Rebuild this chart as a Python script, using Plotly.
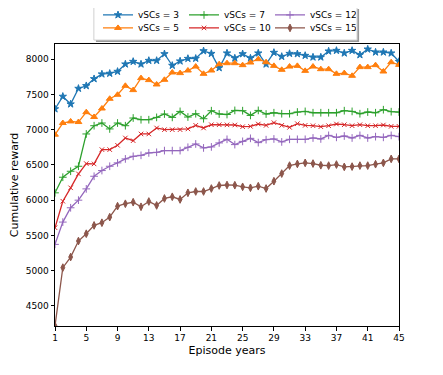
import plotly.graph_objects as go

# episode years on the x axis
years = list(range(1, 46))

# cumulative reward for each vSCs setting
vscs_3 = [7293, 7471, 7363, 7584, 7622, 7721, 7788, 7797, 7825, 7929,
          7966, 7929, 7980, 7980, 8075, 7910, 7972, 8008, 8010, 8117,
          8079, 7877, 8085, 8014, 8075, 8014, 8085, 7929, 8094, 8037,
          8079, 8075, 8051, 8028, 8028, 8113, 8122, 8085, 8122, 8061,
          8141, 8099, 8099, 8085, 7966]
vscs_5 = [6929, 7094, 7117, 7108, 7248, 7180, 7300, 7438, 7495, 7622,
          7561, 7731, 7703, 7641, 7707, 7811, 7802, 7839, 7895, 7792,
          7839, 7929, 7943, 7943, 7915, 7952, 8000, 7957, 7905, 7849,
          7895, 7905, 7834, 7895, 7858, 7858, 7792, 7802, 7764, 7887,
          7887, 7915, 7825, 7957, 7919]
vscs_7 = [6104, 6325, 6410, 6481, 6939, 7056, 7094, 7010, 7094, 7056,
          7165, 7141, 7141, 7174, 7222, 7174, 7259, 7179, 7226, 7155,
          7269, 7222, 7215, 7273, 7269, 7202, 7273, 7222, 7240, 7226,
          7226, 7250, 7259, 7240, 7240, 7240, 7240, 7269, 7259, 7226,
          7250, 7240, 7283, 7255, 7250]
vscs_10 = [5609, 5985, 6175, 6373, 6519, 6514, 6717, 6717, 6778, 6882,
           6844, 6939, 6939, 7024, 7000, 7000, 7000, 7010, 7061, 7024,
           7070, 7070, 7068, 7066, 7042, 7047, 7080, 7061, 7099, 7061,
           7033, 7085, 7061, 7056, 7042, 7056, 7080, 7070, 7056, 7070,
           7056, 7056, 7066, 7047, 7047]
vscs_12 = [5373, 5689, 5892, 6000, 6160, 6339, 6420, 6481, 6529, 6585,
           6622, 6636, 6670, 6679, 6703, 6703, 6703, 6750, 6797, 6741,
           6755, 6812, 6863, 6788, 6834, 6877, 6816, 6858, 6868, 6826,
           6863, 6863, 6863, 6882, 6868, 6919, 6891, 6910, 6882, 6919,
           6882, 6901, 6891, 6919, 6901]
vscs_15 = [4217, 5043, 5193, 5420, 5524, 5642, 5680, 5759, 5915, 5949,
           5971, 5906, 5981, 5925, 6024, 6048, 6010, 6104, 6123, 6123,
           6165, 6208, 6215, 6212, 6189, 6175, 6198, 6165, 6269, 6377,
           6490, 6514, 6529, 6519, 6495, 6490, 6505, 6472, 6476, 6490,
           6490, 6510, 6529, 6585, 6585]

x_ticks = list(range(1, 46, 4))
y_ticks = [4500, 5000, 5500, 6000, 6500, 7000, 7500, 8000]

#------------------------------------------------------------------------------
# name, values, colour, marker, marker size, legend row
series = [
    ('vSCs = 3', vscs_3, '#1f77b4', 'star', 5.5, 'legend'),
    ('vSCs = 5', vscs_5, '#ff7f0e', 'triangle-up', 6, 'legend2'),
    ('vSCs = 7', vscs_7, '#2ca02c', 'cross-thin', 5.5, 'legend'),
    ('vSCs = 10', vscs_10, '#d62728', 'x-thin', 4.5, 'legend2'),
    ('vSCs = 12', vscs_12, '#9467bd', 'cross-thin', 5.5, 'legend'),
    ('vSCs = 15', vscs_15, '#8c564b', 'diamond-tall', 5.5, 'legend2'),
]

fig = go.Figure()
for name, vals, color, symbol, size, leg in series:
    fig.add_trace(go.Scatter(
        x=years,
        y=vals,
        name=name,
        mode='lines+markers',
        legend=leg,
        line=dict(color=color, width=1.3),
        marker=dict(symbol=symbol, size=size, color=color,
                    line=dict(color=color, width=1)),
    ))

axis_common = dict(
    showline=True, linecolor='black', linewidth=1, mirror=True,
    ticks='outside', ticklen=3.5, tickwidth=1, tickcolor='black',
    showgrid=False, zeroline=False, automargin=False,
    tickfont=dict(family='DejaVu Sans', size=9, color='black'),
)

# one horizontal legend per row, both without box; the box is a shape
legend_row = dict(
    orientation='h', x=0.5, xanchor='center', yanchor='middle',
    entrywidth=41, bgcolor='rgba(0,0,0,0)', borderwidth=0,
    font=dict(family='DejaVu Sans', size=9),
)

# page body adds an 8px offset, so the figure is drawn 8px smaller
fig.update_layout(
    width=435, height=367,
    margin=dict(l=47, r=44, t=36, b=49, autoexpand=False),
    paper_bgcolor='white', plot_bgcolor='white',
    font=dict(family='DejaVu Sans', size=9, color='black'),
    xaxis=dict(range=[1, 45], tickvals=x_ticks,
               title=dict(text='Episode years', standoff=4), **axis_common),
    yaxis=dict(range=[4215, 8215], tickvals=y_ticks,
               title=dict(text='Cumulative reward', standoff=7), **axis_common),
    legend=dict(y=1.103, **legend_row),
    legend2=dict(y=1.057, **legend_row),
    shapes=[
        # shadow, then the legend frame
        dict(type='rect', xref='paper', yref='paper',
             x0=0.119, x1=0.884, y0=1.007, y1=1.124,
             fillcolor='#9a9a9a', line=dict(width=0), layer='below'),
        dict(type='rect', xref='paper', yref='paper',
             x0=0.113, x1=0.878, y0=1.014, y1=1.131,
             fillcolor='white', line=dict(color='#d0d0d0', width=1),
             layer='below'),
    ],
)

fig.write_html("out.html")
